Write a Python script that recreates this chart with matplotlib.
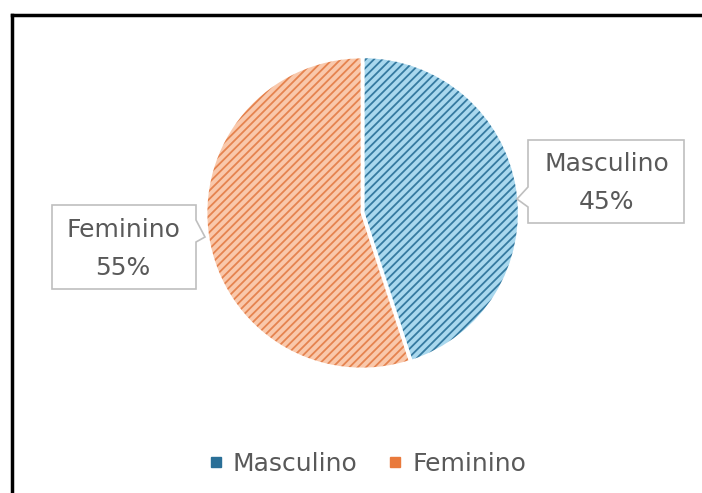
import matplotlib.pyplot as plt
from matplotlib.patches import Polygon
from matplotlib.lines import Line2D

# data
categories = ['Masculino', 'Feminino']
shares = [45, 55]
face_colors = ['#a9d8ee', '#f9c8ab']
hatch_colors = ['#357aa0', '#e5834f']
legend_colors = ['#2a6f97', '#e97a3c']

W, H = 702, 493
plt.rcParams['font.family'] = ['DejaVu Sans']
plt.rcParams['hatch.linewidth'] = 1.3

fig = plt.figure(figsize=(W / 100, H / 100), dpi=100)


def px(x, y):
    return (x / W, 1 - y / H)


# pie axes: centre (362, 213), radius 156 px
cx, cy, r = 362, 213, 156
explode = [0.008, 0]
ax = fig.add_axes([(cx - r) / W, 1 - (cy + r) / H, 2 * r / W, 2 * r / H])
wedges, _ = ax.pie(shares, startangle=90, counterclock=False,
                   explode=explode, radius=1,
                   wedgeprops=dict(linewidth=0))
for w, fc, hc in zip(wedges, face_colors, hatch_colors):
    w.set_facecolor(fc)
    w.set_edgecolor(hc)
    w.set_linewidth(0)
    w.set_hatch('////')
# white separators on top
ax.pie(shares, startangle=90, counterclock=False, explode=explode,
       radius=1, wedgeprops=dict(facecolor='none', edgecolor='white',
                                 linewidth=2))
ax.set_xlim(-1, 1)
ax.set_ylim(-1, 1)
ax.set_aspect('equal')
ax.axis('off')

# callout labels
text_color = '#595959'
box_color = '#bfbfbf'
callouts = [
    dict(box=(528, 140, 684, 223),
         pointer=[(528, 187), (517, 199), (528, 207)], text_xy=(607, 183)),
    dict(box=(52, 205, 196, 289),
         pointer=[(196, 220), (205, 237), (196, 242)], text_xy=(123, 249)),
]
for cat, val, c in zip(categories, shares, callouts):
    x0, y0, x1, y1 = c['box']
    p = c['pointer']
    if p[0][0] == x0:
        pts = [(x0, y0), (x1, y0), (x1, y1), (x0, y1), p[2], p[1], p[0]]
    else:
        pts = [(x0, y0), (x1, y0), p[0], p[1], p[2], (x1, y1), (x0, y1)]
    poly = Polygon([px(*q) for q in pts], closed=True, transform=fig.transFigure,
                   facecolor='white', edgecolor=box_color, linewidth=1.2)
    fig.add_artist(poly)
    fig.text(*px(*c['text_xy']), f'{cat}\n{val}%', ha='center', va='center',
             fontsize=18, color=text_color, linespacing=1.7)

# legend
handles = [Line2D([], [], marker='s', linestyle='none', markersize=7,
                  markerfacecolor=col, markeredgecolor=col)
           for col in legend_colors]
fig.legend(handles, categories, loc='center', bbox_to_anchor=px(368, 464),
           ncol=2, frameon=False, fontsize=18, labelcolor=text_color,
           handlelength=0.45, handletextpad=0.45, columnspacing=1.3)

# partial black frame (top and left edges)
fig.add_artist(Line2D([px(12, 15)[0], 1], [px(12, 15)[1]] * 2,
                      transform=fig.transFigure, color='black', linewidth=2.5))
fig.add_artist(Line2D([px(12, 15)[0]] * 2, [px(12, 15)[1], 0],
                      transform=fig.transFigure, color='black', linewidth=2.5))

fig.savefig('out.png', dpi=100, facecolor='white')
